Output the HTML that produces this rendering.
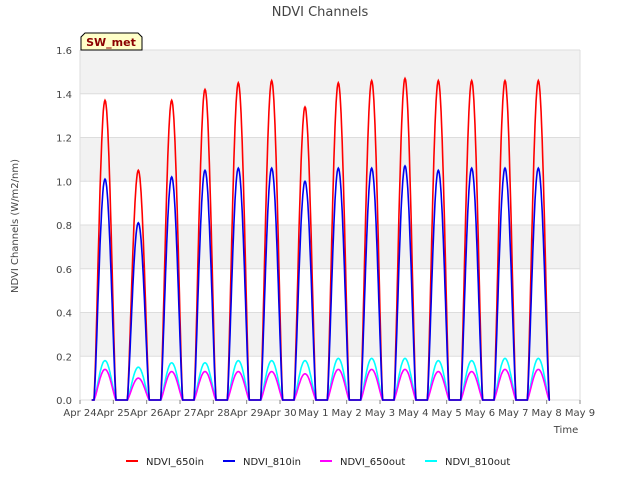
<!DOCTYPE html>
<html><head><meta charset="utf-8"><style>
body{margin:0;background:#fff;font-family:"Liberation Sans","DejaVu Sans",sans-serif}
</style></head><body>
<svg id="c" width="640" height="480" xmlns="http://www.w3.org/2000/svg" font-family="DejaVu Sans, Liberation Sans, sans-serif">
<text x="320" y="16" text-anchor="middle" font-size="13" fill="#444">NDVI Channels</text>
<g id="bands"></g>
<g id="grid"></g>
<g id="series"></g>
<g id="axes"></g>
<text transform="translate(18,226) rotate(-90)" text-anchor="middle" font-size="10" fill="#444">NDVI Channels (W/m2/nm)</text>
<text x="566" y="433" text-anchor="middle" font-size="10" fill="#444">Time</text>
<g>
<path d="M81,50 L81,37 L85,33 L138,33 L142,37 L142,50 Z" fill="#ffffc8" stroke="#000" stroke-width="1"/>
<text x="111" y="46" text-anchor="middle" font-size="11" font-weight="bold" fill="#8b0000">SW_met</text>
</g>
<g id="legend"></g>
</svg>
<script>
const days=["Apr 24","Apr 25","Apr 26","Apr 27","Apr 28","Apr 29","Apr 30","May 1","May 2","May 3","May 4","May 5","May 6","May 7","May 8","May 9"];
const yTicks=[0,0.2,0.4,0.6,0.8,1.0,1.2,1.4,1.6];
const peak650in=[1.37,1.05,1.37,1.42,1.45,1.46,1.34,1.45,1.46,1.47,1.46,1.46,1.46,1.46];
const peak810in=[1.01,0.81,1.02,1.05,1.06,1.06,1.00,1.06,1.06,1.07,1.05,1.06,1.06,1.06];
const peak650out=[0.14,0.10,0.13,0.13,0.13,0.13,0.12,0.14,0.14,0.14,0.13,0.13,0.14,0.14];
const peak810out=[0.18,0.15,0.17,0.17,0.18,0.18,0.18,0.19,0.19,0.19,0.18,0.18,0.19,0.19];
const NS="http://www.w3.org/2000/svg";
const X0=80,X1=580,Y0=400,Y1=50;
const xs=d=>X0+d*(X1-X0)/15;
const ys=v=>Y0-v*(Y0-Y1)/1.6;
function el(t,a,p){const e=document.createElementNS(NS,t);for(const k in a)e.setAttribute(k,a[k]);p.appendChild(e);return e;}
const bands=document.getElementById('bands'),grid=document.getElementById('grid'),axes=document.getElementById('axes');
el('rect',{x:X0,y:Y1,width:X1-X0,height:Y0-Y1,fill:'#fff'},bands);
for(let i=0;i<yTicks.length-1;i++){if(i%2==1){const r=el('rect',{x:X0,y:ys(yTicks[i+1]),width:X1-X0,height:ys(yTicks[i])-ys(yTicks[i+1]),fill:'#f2f2f2'},bands);

}}
yTicks.forEach(v=>{const l=el('line',{x1:X0,x2:X1,y1:ys(v),y2:ys(v),stroke:'#ddd'},grid);


const t=el('text',{x:X0-8,y:ys(v)+4,'text-anchor':'end','font-size':'10',fill:'#444'},axes);t.textContent=v.toFixed(1);

});
el('line',{x1:X1,x2:X1,y1:Y1,y2:Y0,stroke:'#ddd'},grid);
el('line',{x1:X0,x2:X0,y1:Y1,y2:Y0,stroke:'#ddd'},grid);
days.forEach((d,i)=>{const t=el('text',{x:xs(i),y:Y0+16,'text-anchor':'middle','font-size':'10',fill:'#444'},axes);t.textContent=d;


el('line',{x1:xs(i),x2:xs(i),y1:Y0,y2:Y0+4,stroke:'#888'},axes);});
const series=document.getElementById('series');
function draw(peaks,color,name){let pts=[];
pts.push([xs(0.35),ys(0)]);
peaks.forEach((p,i)=>{const a=i+0.42,b=i+1.08;
pts.push([xs(a),ys(0)]);
for(let k=1;k<40;k++){const t=k/40;const v=p*Math.pow(Math.sin(Math.PI*t),1.3);pts.push([xs(a+t*(b-a)),ys(v)]);}
pts.push([xs(b),ys(0)]);});
pts.push([xs(14.1),ys(0)]);
const pl=el('polyline',{points:pts.map(p=>p[0].toFixed(1)+','+p[1].toFixed(1)).join(' '),fill:'none',stroke:color,'stroke-width':'1.6'},series);

}
draw(peak810out,'#00ffff','ndvi-810out-line');
draw(peak650out,'#ff00ff','ndvi-650out-line');
draw(peak650in,'#ff0000','ndvi-650in-line');
draw(peak810in,'#0000ee','ndvi-810in-line');
const legend=document.getElementById('legend');
const leg=[["NDVI_650in","#ff0000",126],["NDVI_810in","#0000ee",223],["NDVI_650out","#ff00ff",320],["NDVI_810out","#00ffff",425]];
leg.forEach(l=>{const g=el('g',{},legend);


el('line',{x1:l[2],x2:l[2]+12,y1:461,y2:461,stroke:l[1],'stroke-width':'2'},g);
const t=el('text',{x:l[2]+20,y:465,'font-size':'10',fill:'#222'},g);t.textContent=l[0];});
</script>
</body></html>
